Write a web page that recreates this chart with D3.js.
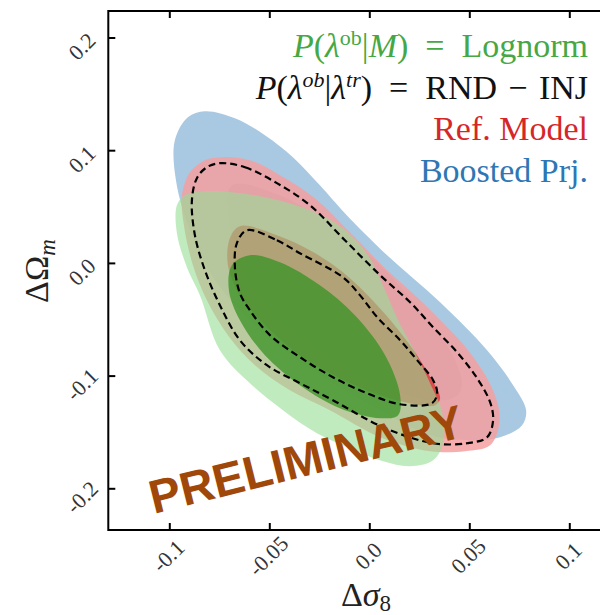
<!DOCTYPE html>
<html>
<head>
<meta charset="utf-8">
<script src="https://cdn.jsdelivr.net/npm/d3@7"></script>
<style>
  html, body { margin: 0; padding: 0; background: #fff; }
  svg { display: block; }
</style>
</head>
<body>
<svg id="chart" width="600" height="615"></svg>
<script>
// Axis ticks
const xTicks = [-0.1, -0.05, 0.0, 0.05, 0.1];
const xTickLabels = ["-0.1", "-0.05", "0.0", "0.05", "0.1"];
const yTicks = [-0.2, -0.1, 0.0, 0.1, 0.2];
const yTickLabels = ["-0.2", "-0.1", "0.0", "0.1", "0.2"];

// Confidence contours, [Δσ8, ΔΩm] boundary points
const boostedOuter = [[-0.0822,0.1346],[-0.0672,0.1284],[-0.0522,0.1133],[-0.0382,0.0938],[-0.0247,0.0689],[-0.0122,0.0441],[0.0089,0.0068],[0.0354,-0.0349],[0.0589,-0.0775],[0.0719,-0.1085],[0.0784,-0.1307],[0.0764,-0.1440],[0.0654,-0.1547],[0.0504,-0.1573],[0.0304,-0.1529],[0.0054,-0.1307],[-0.0247,-0.0996],[-0.0547,-0.0597],[-0.0772,-0.0153],[-0.0897,0.0291],[-0.0967,0.0735],[-0.0972,0.1090],[-0.0907,0.1293]];
const boostedInner = [[-0.0687,0.0689],[-0.0447,0.0601],[-0.0197,0.0335],[0.0054,-0.0020],[0.0254,-0.0420],[0.0404,-0.0775],[0.0464,-0.1085],[0.0429,-0.1192],[0.0304,-0.1218],[0.0054,-0.1085],[-0.0247,-0.0775],[-0.0497,-0.0420],[-0.0647,0.0024],[-0.0707,0.0468]];
const refOuter = [[-0.0737,0.0938],[-0.0597,0.0911],[-0.0447,0.0778],[-0.0272,0.0574],[-0.0097,0.0272],[0.0079,-0.0047],[0.0244,-0.0313],[0.0379,-0.0552],[0.0494,-0.0775],[0.0594,-0.1041],[0.0644,-0.1263],[0.0649,-0.1440],[0.0604,-0.1618],[0.0479,-0.1671],[0.0304,-0.1671],[0.0054,-0.1546],[-0.0197,-0.1307],[-0.0397,-0.1130],[-0.0572,-0.0908],[-0.0707,-0.0641],[-0.0812,-0.0331],[-0.0882,-0.0020],[-0.0927,0.0335],[-0.0937,0.0601],[-0.0897,0.0805],[-0.0822,0.0911]];
const refInner = [[-0.0647,0.0326],[-0.0462,0.0246],[-0.0297,0.0113],[-0.0132,-0.0083],[0.0039,-0.0375],[0.0204,-0.0730],[0.0314,-0.1041],[0.0354,-0.1201],[0.0329,-0.1263],[0.0229,-0.1254],[0.0054,-0.1174],[-0.0147,-0.1023],[-0.0347,-0.0819],[-0.0522,-0.0553],[-0.0647,-0.0286],[-0.0707,-0.0020],[-0.0697,0.0220]];
const lognormOuter = [[-0.0922,0.0601],[-0.0797,0.0636],[-0.0547,0.0592],[-0.0297,0.0468],[-0.0132,0.0308],[-0.0007,0.0068],[0.0079,-0.0242],[0.0144,-0.0508],[0.0224,-0.0775],[0.0304,-0.1068],[0.0364,-0.1325],[0.0369,-0.1600],[0.0319,-0.1751],[0.0204,-0.1804],[0.0069,-0.1760],[-0.0097,-0.1644],[-0.0262,-0.1511],[-0.0432,-0.1307],[-0.0597,-0.1068],[-0.0747,-0.0775],[-0.0847,-0.0286],[-0.0912,-0.0038],[-0.0962,0.0264],[-0.0962,0.0512]];
const lognormInner = [[-0.0597,0.0068],[-0.0447,0.0006],[-0.0247,-0.0198],[-0.0072,-0.0464],[0.0079,-0.0819],[0.0154,-0.1174],[0.0144,-0.1351],[0.0054,-0.1378],[-0.0147,-0.1289],[-0.0347,-0.1085],[-0.0522,-0.0819],[-0.0647,-0.0508],[-0.0702,-0.0242],[-0.0687,-0.0020]];
const rndInjOuter = [[-0.0747,0.0885],[-0.0622,0.0849],[-0.0462,0.0708],[-0.0297,0.0512],[-0.0122,0.0201],[0.0054,-0.0109],[0.0204,-0.0349],[0.0319,-0.0571],[0.0439,-0.0793],[0.0539,-0.1023],[0.0604,-0.1236],[0.0619,-0.1396],[0.0589,-0.1547],[0.0489,-0.1600],[0.0319,-0.1600],[0.0069,-0.1458],[-0.0182,-0.1218],[-0.0347,-0.1067],[-0.0512,-0.0908],[-0.0647,-0.0686],[-0.0747,-0.0375],[-0.0822,-0.0065],[-0.0872,0.0246],[-0.0887,0.0556],[-0.0862,0.0752],[-0.0812,0.0849]];
const rndInjInner = [[-0.0612,0.0290],[-0.0462,0.0201],[-0.0347,0.0086],[-0.0132,-0.0127],[-0.0047,-0.0286],[0.0039,-0.0481],[0.0154,-0.0686],[0.0239,-0.0863],[0.0319,-0.1041],[0.0339,-0.1156],[0.0314,-0.1245],[0.0154,-0.1254],[-0.0012,-0.1156],[-0.0182,-0.1014],[-0.0347,-0.0836],[-0.0497,-0.0641],[-0.0597,-0.0420],[-0.0647,-0.0269],[-0.0672,-0.0038],[-0.0662,0.0175]];

const svg = d3.select("#chart");
const plotLeft = 108.3, plotRight = 625.3, plotTop = 11, plotBottom = 530;
const x = d3.scaleLinear().domain([-0.1305, 0.128]).range([plotLeft, plotRight]);
const y = d3.scaleLinear().domain([-0.237, 0.2235]).range([plotBottom, plotTop]);

const serif = "'Liberation Serif', 'Times New Roman', serif";
const line = d3.line().x(d => x(d[0])).y(d => y(d[1])).curve(d3.curveCatmullRomClosed.alpha(0.5));

const plot = svg.append("g");
plot.append("clipPath").attr("id", "clip").append("rect")
  .attr("x", plotLeft).attr("y", plotTop).attr("width", plotRight - plotLeft).attr("height", plotBottom - plotTop);
const area = plot.append("g").attr("clip-path", "url(#clip)");

// Filled contours, bottom to top
const fills = [
  { data: boostedOuter, fill: "#a9c9e2", opacity: 1 },
  { data: boostedInner, fill: "#85acd0", opacity: 1 },
  { data: refOuter, fill: "rgb(245,160,160)", opacity: 0.85 },
  { data: refInner, fill: "rgb(214,45,42)", opacity: 0.72 },
  { data: lognormOuter, fill: "rgb(150,222,148)", opacity: 0.6 },
  { data: lognormInner, fill: "rgb(55,145,35)", opacity: 0.75 }
];
fills.forEach(f => {
  area.append("path").datum(f.data)
    .attr("d", line).attr("fill", f.fill).attr("fill-opacity", f.opacity).attr("stroke", "none");
});

// Dashed RND-INJ contours
[rndInjOuter, rndInjInner].forEach(c => {
  area.append("path").datum(c)
    .attr("d", line).attr("fill", "none").attr("stroke", "#000")
    .attr("stroke-width", 2.2).attr("stroke-dasharray", "7,4");
});

// Axes with inward ticks
const tickStyle = g => {
  g.select(".domain").remove();
  g.selectAll(".tick line").attr("stroke", "#000").attr("stroke-width", 2);
  g.selectAll(".tick text").remove();
};
svg.append("g").attr("transform", `translate(0,${plotBottom})`)
  .call(d3.axisBottom(x).tickValues(xTicks).tickSizeInner(-7).tickSizeOuter(0)).call(tickStyle);
svg.append("g").attr("transform", `translate(0,${plotTop})`)
  .call(d3.axisTop(x).tickValues(xTicks).tickSizeInner(-7).tickSizeOuter(0)).call(tickStyle);
svg.append("g").attr("transform", `translate(${plotLeft},0)`)
  .call(d3.axisLeft(y).tickValues(yTicks).tickSizeInner(-7).tickSizeOuter(0)).call(tickStyle);

// Frame
svg.append("path")
  .attr("d", `M${plotRight},${plotTop}H${plotLeft}V${plotBottom}H${plotRight}`)
  .attr("fill", "none").attr("stroke", "#000").attr("stroke-width", 2);

// Rotated tick labels
svg.append("g").selectAll("text").data(xTicks).join("text")
  .attr("transform", d => `translate(${x(d) - 1},${556}) rotate(-45)`)
  .attr("text-anchor", "middle").attr("dominant-baseline", "central")
  .attr("font-family", serif).attr("font-size", 22).attr("fill", "#333")
  .text((d, i) => xTickLabels[i]);
svg.append("g").selectAll("text").data(yTicks).join("text")
  .attr("transform", d => `translate(${82},${y(d) + 9}) rotate(-45)`)
  .attr("text-anchor", "middle").attr("dominant-baseline", "central")
  .attr("font-family", serif).attr("font-size", 22).attr("fill", "#333")
  .text((d, i) => yTickLabels[i]);

// Axis titles
const xl = svg.append("text").attr("x", 366).attr("y", 606)
  .attr("text-anchor", "middle").attr("font-family", serif).attr("font-size", 34).attr("fill", "#222");
xl.append("tspan").text("Δ");
xl.append("tspan").attr("font-style", "italic").text("σ");
xl.append("tspan").attr("font-size", 23).attr("dy", 5).text("8");

const yl = svg.append("text").attr("transform", "translate(48,271) rotate(-90)")
  .attr("text-anchor", "middle").attr("font-family", serif).attr("font-size", 34).attr("fill", "#222");
yl.append("tspan").text("ΔΩ");
yl.append("tspan").attr("font-style", "italic").attr("font-size", 23).attr("dy", 7).text("m");

// Legend
const legend = svg.append("g").attr("font-family", serif).attr("font-size", 34).attr("text-anchor", "end");
const lx = 588;
const l1 = legend.append("text").attr("x", lx).attr("y", 57).attr("fill", "#45a845");
l1.append("tspan").attr("font-style", "italic").text("P");
l1.append("tspan").text("(");
l1.append("tspan").attr("font-style", "italic").text("λ");
l1.append("tspan").attr("font-size", 22).attr("dy", -12).text("ob");
l1.append("tspan").attr("dy", 12).text("|");
l1.append("tspan").attr("font-style", "italic").text("M");
l1.append("tspan").text(")\u2002=\u2002Lognorm");

const l2 = legend.append("text").attr("x", lx).attr("y", 99).attr("fill", "#111");
l2.append("tspan").attr("font-style", "italic").text("P");
l2.append("tspan").text("(");
l2.append("tspan").attr("font-style", "italic").text("λ");
l2.append("tspan").attr("font-style", "italic").attr("font-size", 22).attr("dy", -12).text("ob");
l2.append("tspan").attr("dy", 12).text("|");
l2.append("tspan").attr("font-style", "italic").text("λ");
l2.append("tspan").attr("font-style", "italic").attr("font-size", 22).attr("dy", -12).text("tr");
l2.append("tspan").attr("dy", 12).text(")\u2002=\u2002RND\u2004−\u2004INJ");

legend.append("text").attr("x", lx).attr("y", 140).attr("fill", "#d62728").text("Ref.  Model");
legend.append("text").attr("x", lx).attr("y", 182).attr("fill", "#2f77b4").text("Boosted Prj.");

// Watermark
svg.append("text")
  .attr("transform", "translate(310,475) rotate(-14)")
  .attr("text-anchor", "middle")
  .attr("font-family", "'Liberation Sans', Arial, sans-serif").attr("font-weight", "bold")
  .attr("font-size", 47).attr("fill", "#a0470a")
  .text("PRELIMINARY");
</script>
</body>
</html>
